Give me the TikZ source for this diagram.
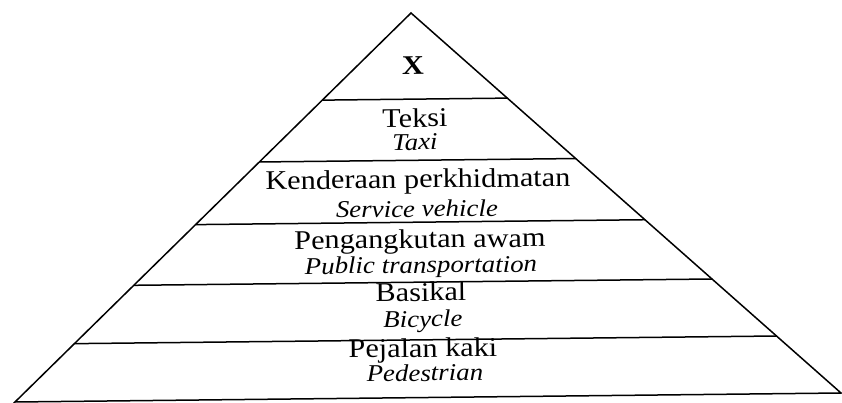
\documentclass[tikz,border=0pt]{standalone}
\usepackage{fontspec}
\setmainfont{Liberation Serif}[FakeStretch=1.12]
\usetikzlibrary{calc}

\begin{document}
\begin{tikzpicture}[
		x=1pt, y=-1pt,
		every node/.style={inner sep=0pt, rotate=0.6},
		malay/.style={anchor=base, font=\fontsize{27}{31}\selectfont},
		english/.style={anchor=base, font=\fontsize{24}{28}\selectfont\itshape},
		tier/.style={line width=1.5pt}
	]
		\useasboundingbox (0,0) rectangle (842,403);
		\coordinate (top) at (411,13);
		\coordinate (bl) at (15,402);
		\coordinate (br) at (841,393);

		% outline and tiers
		\draw[tier] (bl) -- (top) -- (br) -- cycle;
		\foreach \t in {0.224,0.383,0.544,0.70,0.85}
			\draw[tier] ($(top)!\t!(bl)$) -- ($(top)!\t!(br)$);

		\node[malay, font=\fontsize{27}{31}\selectfont\bfseries]
			(x) at (413,74) {X};
		\node[malay] (teksi) at (415,127) {Teksi};
		\node[english] (taxi) at (415,150) {Taxi};
		\node[malay] (kenderaan) at (418,188) {Kenderaan perkhidmatan};
		\node[english] (service) at (417,217) {Service vehicle};
		\node[malay] (pengangkutan) at (420,248) {Pengangkutan awam};
		\node[english] (public) at (421,273) {Public transportation};
		\node[malay] (basikal) at (421,301) {Basikal};
		\node[english] (bicycle) at (423,327) {Bicycle};
		\node[malay] (pejalan) at (423,357) {Pejalan kaki};
		\node[english] (pedestrian) at (425,381) {Pedestrian};
	\end{tikzpicture}
\end{document}
